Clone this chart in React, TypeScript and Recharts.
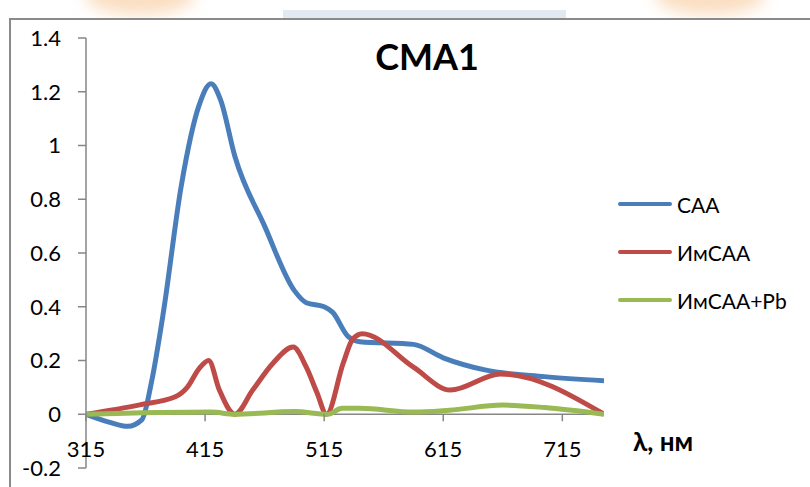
import React from "react";
import { LineChart, Line, XAxis, YAxis, ReferenceLine } from "recharts";

// wavelengths (nm) and absorbance
const caaLambda = [315, 335, 350, 362, 370, 380, 395, 410, 420, 428, 440, 465, 490, 500, 515, 522, 535, 545, 590, 615, 650, 700, 750];
const caaValues = [0, -0.03, -0.045, -0.02, 0.12, 0.38, 0.85, 1.15, 1.23, 1.17, 0.96, 0.7, 0.46, 0.415, 0.4, 0.38, 0.29, 0.27, 0.26, 0.21, 0.165, 0.14, 0.125];

const imCaaLambda = [315, 360, 390, 400, 410, 418, 427, 440, 455, 472, 489, 500, 509, 517, 531, 539, 547, 590, 621, 663, 750];
const imCaaValues = [0, 0.035, 0.065, 0.1, 0.17, 0.2, 0.09, 0, 0.09, 0.19, 0.25, 0.175, 0.08, 0, 0.19, 0.28, 0.3, 0.175, 0.09, 0.15, 0];

const imCaaPbLambda = [315, 420, 440, 490, 518, 530, 545, 590, 620, 665, 700, 750];
const imCaaPbValues = [0, 0.008, 0, 0.01, 0, 0.022, 0.022, 0.008, 0.015, 0.034, 0.025, 0];

const xTicks = [315, 415, 515, 615, 715];
const yTicks = [-0.2, 0, 0.2, 0.4, 0.6, 0.8, 1, 1.2, 1.4];

const SERIES = [
  { name: "CAA", color: "#4A7EBB", lambda: caaLambda, values: caaValues },
  { name: "ИмCAA", color: "#BE4B48", lambda: imCaaLambda, values: imCaaValues },
  { name: "ИмCAA+Pb", color: "#98B954", lambda: imCaaPbLambda, values: imCaaPbValues },
];

const W = 810;
const H = 487;
const PLOT_TOP = 38;
const PLOT_BOTTOM = 468;
const Y_MIN = -0.2;
const Y_MAX = 1.4;
const ZERO_Y = PLOT_TOP + (Y_MAX / (Y_MAX - Y_MIN)) * (PLOT_BOTTOM - PLOT_TOP);
const AXIS = "#868686";
const FONT = "Lato, 'Open Sans', 'Liberation Sans', sans-serif";

const XTick = (props: any) => {
  const { x, payload } = props;
  return (
    <g>
      <line x1={x} x2={x} y1={ZERO_Y} y2={ZERO_Y + 7} stroke={AXIS} strokeWidth={1.5} />
      <text x={x} y={ZERO_Y + 43} textAnchor="middle" fontSize={22} fontFamily={FONT} fill="#000">
        {payload.value}
      </text>
    </g>
  );
};

export default function App() {
  return (
    <div style={{ position: "absolute", left: 0, top: 0, width: W, height: H, overflow: "hidden", background: "#fff", fontFamily: FONT }}>
      {/* faint background scraps above the chart frame */}
      <div style={{ position: "absolute", left: 85, top: -25, width: 110, height: 40, background: "#f7c898", borderRadius: "50%", filter: "blur(8px)", opacity: 0.6 }} />
      <div style={{ position: "absolute", left: 655, top: -25, width: 110, height: 40, background: "#f7c898", borderRadius: "50%", filter: "blur(8px)", opacity: 0.6 }} />
      <div style={{ position: "absolute", left: 283, top: 10, width: 283, height: 9, background: "#e2e9f0" }} />
      <div style={{ position: "absolute", left: 9, top: 18, width: 900, height: 600, border: "2px solid #8a8a8a", background: "#fff" }} />

      <div style={{ position: "absolute", left: 0, top: 0 }}>
        <LineChart width={W} height={H} margin={{ top: PLOT_TOP, right: W - 604, bottom: 0, left: 0 }}>
          <XAxis
            type="number"
            dataKey="x"
            domain={[315, 750]}
            ticks={xTicks}
            height={H - PLOT_BOTTOM}
            axisLine={false}
            tickLine={false}
            tick={<XTick />}
            allowDataOverflow
          />
          <YAxis
            type="number"
            domain={[Y_MIN, Y_MAX]}
            ticks={yTicks}
            width={86}
            tickSize={8}
            tickMargin={17}
            axisLine={{ stroke: AXIS, strokeWidth: 1.5 }}
            tickLine={{ stroke: AXIS, strokeWidth: 1.5 }}
            tick={{ fontSize: 22, fontFamily: FONT, fill: "#000" }}
            tickFormatter={(v: number) => String(Math.round(v * 10) / 10)}
            allowDataOverflow
          />
          <ReferenceLine y={0} stroke={AXIS} strokeWidth={1.5} />
          {SERIES.map((s) => (
            <Line
              key={s.name}
              name={s.name}
              data={s.lambda.map((l, i) => ({ x: l, y: s.values[i] }))}
              dataKey="y"
              type="monotone"
              stroke={s.color}
              strokeWidth={5}
              dot={false}
              activeDot={false}
              isAnimationActive={false}
            />
          ))}
        </LineChart>
      </div>

      <div style={{ position: "absolute", left: 0, width: 854, top: 36, textAlign: "center", fontSize: 36, fontWeight: 700, color: "#000", lineHeight: "40px" }}>
        CMA1
      </div>
      <div style={{ position: "absolute", left: 633, top: 423, fontSize: 26, fontWeight: 700, color: "#000", lineHeight: "36px", whiteSpace: "nowrap" }}>
        λ, нм
      </div>

      {SERIES.map((s, i) => (
        <div key={s.name} style={{ position: "absolute", left: 618, top: 204 + i * 48 - 14, height: 28, display: "flex", alignItems: "center", whiteSpace: "nowrap" }}>
          <div style={{ width: 54, height: 4, background: s.color, borderRadius: 2, marginRight: 5 }} />
          <span style={{ fontSize: 21, color: "#000" }}>{s.name}</span>
        </div>
      ))}
    </div>
  );
}
